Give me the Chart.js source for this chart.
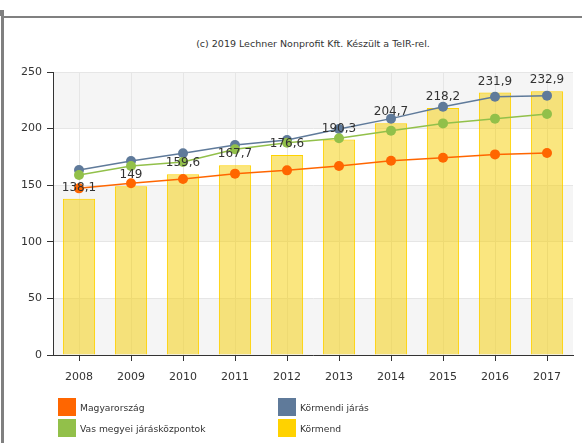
<!DOCTYPE html>
<html>
<head>
<meta charset="utf-8">
<script src="https://cdn.jsdelivr.net/npm/chart.js@4.4.1/dist/chart.umd.min.js"></script>
<style>
  body { margin: 0; background: #fff; }
  #wrap { position: relative; width: 582px; height: 443px; overflow: hidden; font-family: "DejaVu Sans", sans-serif; }
  #frame { position: absolute; left: 1px; top: 16px; width: 600px; height: 500px; border-left: 3px solid #808080; border-top: 2px solid #808080; }
  #frameTop { position: absolute; left: 0; top: 10px; width: 4px; height: 6px; background: #808080; }
  #title { position: absolute; left: 0; width: 626px; top: 38px; text-align: center; font-size: 9.5px; color: #333; }
  canvas { position: absolute; left: 0; top: 0; }
  .leg { position: absolute; font-size: 9.2px; color: #333; display: flex; align-items: center; height: 18px; }
  .leg span.sw { display: inline-block; width: 18px; height: 18px; margin-right: 4px; }
</style>
</head>
<body>
<div id="wrap">
  <div id="frameTop"></div>
  <div id="frame"></div>
  <div id="title">(c) 2019 Lechner Nonprofit Kft. Készült a TeIR-rel.</div>
  <canvas id="chart" width="582" height="443"></canvas>
  <div id="legend"></div>
</div>
<script>
// Chart data
const years = ['2008', '2009', '2010', '2011', '2012', '2013', '2014', '2015', '2016', '2017'];
const kormend = [138.1, 149, 159.6, 167.7, 176.6, 190.3, 204.7, 218.2, 231.9, 232.9];
const kormendiJaras = [163.4, 171.4, 178.2, 185.5, 190.0, 199.6, 208.8, 219.3, 228.2, 229.1];
const vasJaraskozpontok = [159.0, 167.0, 170.5, 181.7, 187.5, 191.4, 198.1, 204.6, 208.8, 212.9];
const magyarorszag = [147.2, 151.7, 155.5, 160.2, 163.1, 167.0, 171.6, 174.3, 177.2, 178.4];
const yTicks = [0, 50, 100, 150, 200, 250];

const legendItems = [
    { label: 'Magyarország', color: '#ff6600', x: 58, y: 398 },
    { label: 'Körmendi járás', color: '#5f7a9a', x: 278, y: 398 },
    { label: 'Vas megyei járásközpontok', color: '#92c04a', x: 58, y: 419 },
    { label: 'Körmend', color: '#ffd200', x: 278, y: 419 }
];

// Alternating background bands
const bandsPlugin = {
    id: 'bands',
    beforeDraw(chart) {
        const { ctx, chartArea, scales } = chart;
        ctx.save();
        for (let i = 0; i < yTicks.length - 1; i += 2) {
            const top = scales.y.getPixelForValue(yTicks[i + 1]);
            const bottom = scales.y.getPixelForValue(yTicks[i]);
            ctx.fillStyle = '#f5f5f5';
            ctx.fillRect(chartArea.left, top, chartArea.right - chartArea.left, bottom - top);
        }
        ctx.restore();
    }
};

// Value labels above the bars
const barLabels = {
    id: 'barLabels',
    afterDatasetsDraw(chart) {
        const { ctx } = chart;
        const meta = chart.getDatasetMeta(0);
        ctx.save();
        ctx.font = '12px "DejaVu Sans", sans-serif';
        ctx.fillStyle = '#333';
        ctx.textAlign = 'center';
        ctx.textBaseline = 'bottom';
        meta.data.forEach((bar, i) => {
            ctx.fillText(String(kormend[i]).replace('.', ','), bar.x, bar.y - 5);
        });
        ctx.restore();
    }
};

const lineStyle = (label, data, color, order) => ({
    type: 'line',
    label: label,
    data: data,
    borderColor: color,
    backgroundColor: color,
    borderWidth: 1.5,
    pointRadius: 5,
    pointHoverRadius: 5,
    pointBorderWidth: 0,
    tension: 0,
    order: order
});

new Chart(document.getElementById('chart'), {
    type: 'bar',
    data: {
        labels: years,
        datasets: [
            {
                label: 'Körmend',
                data: kormend,
                backgroundColor: 'rgba(245, 206, 0, 0.5)',
                borderColor: '#ffd200',
                borderWidth: 1,
                barPercentage: 0.62,
                categoryPercentage: 1,
                order: 10
            },
            lineStyle('Körmendi járás', kormendiJaras, 'rgba(95, 122, 154, 1)', 3),
            lineStyle('Vas megyei járásközpontok', vasJaraskozpontok, 'rgba(146, 192, 74, 1)', 2),
            lineStyle('Magyarország', magyarorszag, 'rgba(255, 102, 0, 1)', 1)
        ]
    },
    options: {
        responsive: false,
        animation: false,
        layout: { padding: { top: 72, right: 9, bottom: 0, left: 0 } },
        plugins: {
            legend: { display: false },
            tooltip: { enabled: false }
        },
        scales: {
            x: {
                afterFit: (scale) => { scale.height = 88; },
                grid: {
                    offset: false,
                    color: '#e6e6e6',
                    tickColor: '#333',
                    tickLength: 6
                },
                border: { color: '#333' },
                ticks: {
                    color: '#333',
                    font: { family: 'DejaVu Sans', size: 11 },
                    padding: 10
                }
            },
            y: {
                min: 0,
                max: 250,
                afterFit: (scale) => { scale.width = 53; },
                afterBuildTicks: (scale) => { scale.ticks = yTicks.map(v => ({ value: v })); },
                grid: {
                    color: '#e6e6e6',
                    tickColor: '#333',
                    tickLength: 6
                },
                border: { color: '#333' },
                ticks: {
                    color: '#333',
                    font: { family: 'DejaVu Sans', size: 11 },
                    padding: 5
                }
            }
        }
    },
    plugins: [bandsPlugin, barLabels]
});

// HTML legend
const legendEl = document.getElementById('legend');
legendItems.forEach(item => {
    const div = document.createElement('div');
    div.className = 'leg';
    div.style.left = item.x + 'px';
    div.style.top = item.y + 'px';
    const sw = document.createElement('span');
    sw.className = 'sw';
    sw.style.background = item.color;
    div.appendChild(sw);
    div.appendChild(document.createTextNode(item.label));
    legendEl.appendChild(div);
});
</script>
</body>
</html>
